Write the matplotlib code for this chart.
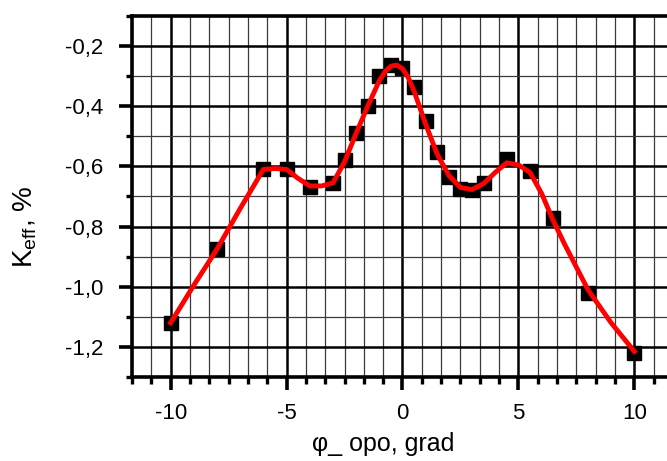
import matplotlib
matplotlib.use("Agg")
import matplotlib.pyplot as plt
from matplotlib.ticker import MultipleLocator, FixedLocator
import numpy as np

plt.rcParams['font.family'] = ['Liberation Sans', 'DejaVu Sans']

# measured points
pts_x = [-10, -8, -6, -5, -4, -3, -2.5, -2, -1.5, -1, -0.5, 0, 0.5, 1, 1.5, 2, 2.5, 3, 3.5, 4.5, 5.5, 6.5, 8, 10]
pts_y = [-1.12, -0.875, -0.61, -0.61, -0.667, -0.655, -0.58, -0.49, -0.40, -0.30, -0.263, -0.272,
         -0.335, -0.45, -0.553, -0.636, -0.675, -0.678, -0.656, -0.576, -0.614, -0.773, -1.02, -1.22]

# smoothed red curve
curve_x = [-10, -9, -8, -7, -6, -5.5, -5, -4.5, -4, -3.5, -3, -2.5, -2, -1.5, -1, -0.75, -0.5, -0.25,
           0, 0.25, 0.5, 1, 1.5, 2, 2.5, 3, 3.5, 4, 4.5, 5, 5.5, 6, 6.5, 7, 8, 9, 10]
curve_y = [-1.12, -0.995, -0.875, -0.74, -0.61, -0.607, -0.61, -0.64, -0.665, -0.665, -0.655, -0.585,
           -0.49, -0.40, -0.315, -0.285, -0.267, -0.263, -0.275, -0.305, -0.35, -0.46, -0.56, -0.63,
           -0.67, -0.677, -0.657, -0.62, -0.588, -0.595, -0.62, -0.69, -0.78, -0.86, -1.01, -1.12, -1.215]

x_major = [-10, -5, 0, 5, 10]
x_labels = ['-10', '-5', '0', '5', '10']
y_major = [-1.2, -1.0, -0.8, -0.6, -0.4, -0.2]
y_labels = ['-1,2', '-1,0', '-0,8', '-0,6', '-0,4', '-0,2']

fig = plt.figure(figsize=(6.67, 4.61), dpi=100)
L, R, T, B = 132, 673, 16, 377
W, H = 667, 461
ax = fig.add_axes([L / W, 1 - B / H, (R - L) / W, (B - T) / H])

xmin, xmax = -11.6667, 11.6667
ax.set_xlim(xmin, xmax)
ax.set_ylim(-1.3, -0.1)

ax.xaxis.set_major_locator(FixedLocator(x_major))
ax.set_xticklabels(x_labels)
ax.xaxis.set_minor_locator(FixedLocator(list(np.arange(-11.6667, 11.7, 5 / 6))))
ax.yaxis.set_major_locator(FixedLocator(y_major))
ax.set_yticklabels(y_labels)
ax.yaxis.set_minor_locator(MultipleLocator(0.1))

ax.grid(which='major', color='black', linewidth=1.8)
ax.grid(which='minor', color='#3a3a3a', linewidth=0.9)
ax.set_axisbelow(True)

for s in ['left', 'bottom', 'top']:
    ax.spines[s].set_linewidth(2.6)
ax.spines['right'].set_visible(False)

ax.tick_params(which='major', direction='out', length=9.4, width=2.6, labelsize=16)
ax.tick_params(axis='y', which='major', pad=11)
ax.tick_params(axis='x', which='major', pad=9)
ax.tick_params(axis='x', which='minor', direction='out', length=5, width=2.4)
ax.tick_params(axis='y', which='minor', direction='out', length=4, width=2.4)

ax.plot(pts_x, pts_y, linestyle='none', marker='s', markersize=9.5, color='black', zorder=3)
ax.plot(curve_x, curve_y, color='red', linewidth=3.5, solid_joinstyle='round', zorder=4)

ax.set_xlabel('φ_ opo, grad', fontsize=18)
ax.set_ylabel('K$_{\\mathregular{eff}}$, %', fontsize=20)
ax.xaxis.set_label_coords((383 - L) / (R - L), (B - 432) / (B - T))
ax.yaxis.set_label_coords((39 - L) / (R - L), (B - 227) / (B - T))

fig.savefig('out.png', dpi=100)
